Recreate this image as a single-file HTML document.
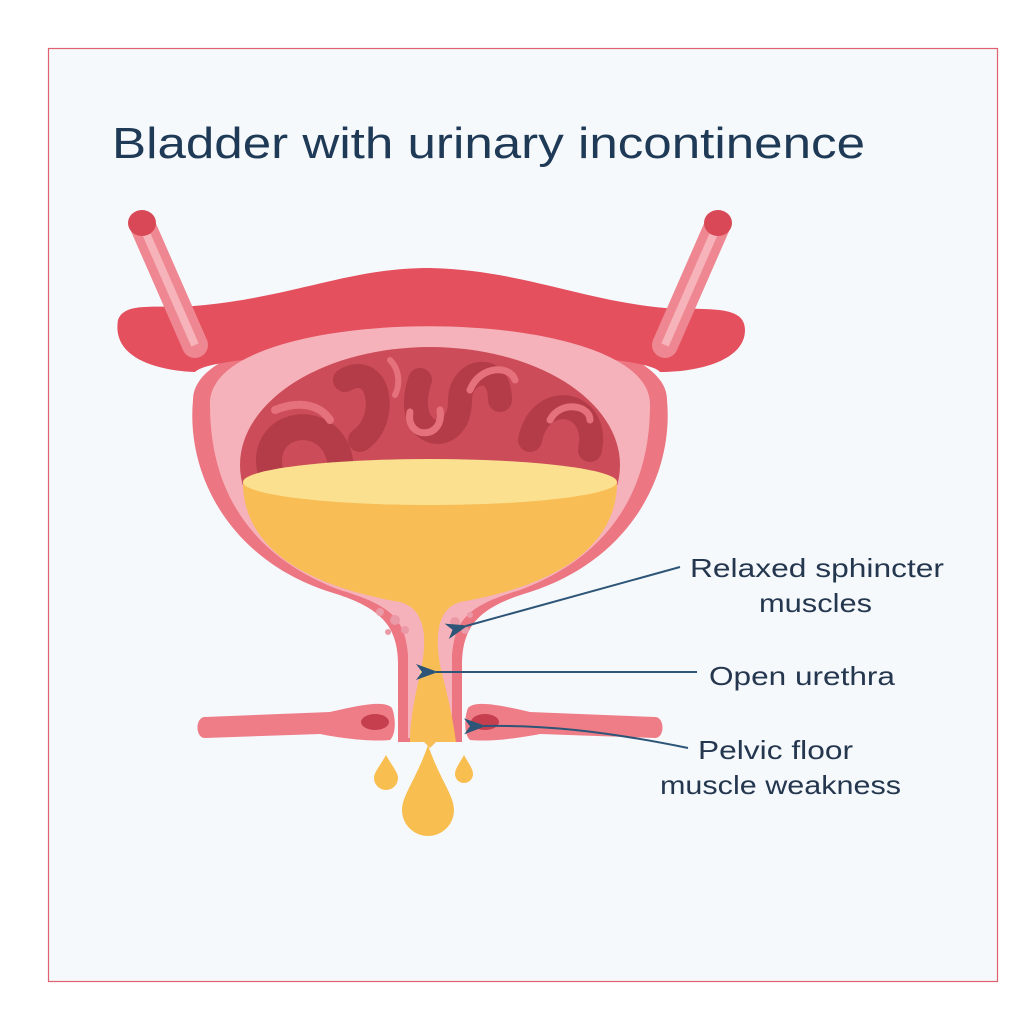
<!DOCTYPE html>
<html><head><meta charset="utf-8"><style>
html,body{margin:0;padding:0;background:#fff;}
svg{display:block}
text{font-family:"Liberation Sans",sans-serif;fill:#24374f}
</style></head><body>
<svg width="1024" height="1024" viewBox="0 0 1024 1024" xmlns="http://www.w3.org/2000/svg">
<defs>
<marker id="ah" markerWidth="22" markerHeight="16" refX="2" refY="8" orient="auto" markerUnits="userSpaceOnUse" viewBox="0 0 22 16">
<path d="M22,0 L0,8 L22,16 L16,8 Z" fill="#2d5577"/></marker>
<clipPath id="cavclip"><rect x="0" y="0" width="1024" height="485"/></clipPath>
</defs>
<rect x="0" y="0" width="1024" height="1024" fill="#fff"/>
<rect x="48.5" y="48.5" width="949" height="933" fill="#f6f9fc" stroke="#e06070" stroke-width="1.2"/>
<text x="112" y="158" font-size="44" textLength="753" lengthAdjust="spacingAndGlyphs" style="fill:#1f3a56">Bladder with urinary incontinence</text>

<path d="M193,400 C186,475 230,560 330,592 C380,607 398,625 398,665 L398,742 L462,742 L462,665 C462,625 480,607 530,592 C630,560 674,475 667,400 C667,300 193,300 193,400 Z" fill="#ec7682"/>
<path d="M118,320 C125,300 160,310 205,305 C300,295 350,268 430,268 C520,270 580,300 665,308 C710,310 745,305 745,330 C745,360 700,372 660,372 C640,345 220,345 195,372 C150,370 112,355 118,320 Z" fill="#e4505e"/>
<line x1="142" y1="224" x2="195" y2="345" stroke="#ee8791" stroke-width="26" stroke-linecap="round"/>
<line x1="142" y1="224" x2="195" y2="345" stroke="#f7b3ba" stroke-width="8"/>
<ellipse cx="142" cy="223" rx="14" ry="13" fill="#d94856"/>
<line x1="718" y1="224" x2="665" y2="345" stroke="#ee8791" stroke-width="26" stroke-linecap="round"/>
<line x1="718" y1="224" x2="665" y2="345" stroke="#f7b3ba" stroke-width="8"/>
<ellipse cx="718" cy="223" rx="14" ry="13" fill="#d94856"/>
<path d="M210,405 C205,300 652,300 650,405 C650,500 600,560 520,590 C470,605 455,618 452,655 L452,738 L408,738 L408,655 C405,618 390,605 340,590 C260,560 210,500 210,405 Z" fill="#f6b2ba"/>
<ellipse cx="430" cy="465" rx="190" ry="118" fill="#cc4d59" clip-path="url(#cavclip)"/>
<g fill="none" stroke-linecap="round" clip-path="url(#cavclip)">
<path d="M270,470 C260,420 330,410 340,460" stroke="#b43c48" stroke-width="26"/>
<path d="M345,380 C380,360 390,420 360,440" stroke="#b43c48" stroke-width="24"/>
<path d="M420,380 C400,440 460,450 460,400 C460,370 500,360 500,400" stroke="#b43c48" stroke-width="24"/>
<path d="M530,440 C540,390 600,400 590,450" stroke="#b43c48" stroke-width="24"/>
<path d="M275,410 C300,400 320,405 330,420" stroke="#e5717d" stroke-width="8"/>
<path d="M410,412 C405,440 445,440 440,410" stroke="#e5717d" stroke-width="7"/>
<path d="M470,390 C480,365 510,365 515,380" stroke="#e5717d" stroke-width="7"/>
<path d="M550,420 C560,400 590,405 590,420" stroke="#e5717d" stroke-width="7"/>
<path d="M390,360 C400,370 400,385 395,395" stroke="#e5717d" stroke-width="6"/>
</g>
<path d="M243,482 C243,560 330,590 400,602 C422,608 428,630 422,665 C414,700 410,720 410,742 L424,742 L430,748 L436,742 L456,742 C452,712 446,690 440,665 C434,630 440,608 460,602 C530,590 617,560 617,482 Z" fill="#f8bd55"/>
<ellipse cx="430" cy="482" rx="187" ry="23" fill="#fbe08f"/>
<circle cx="424" cy="672" r="4" fill="#fde08e"/>
<g fill="#ea9aa6">
<circle cx="380" cy="612" r="4"/><circle cx="395" cy="620" r="5"/><circle cx="405" cy="630" r="4"/><circle cx="388" cy="632" r="3"/>
<circle cx="455" cy="622" r="5"/><circle cx="465" cy="630" r="4"/><circle cx="470" cy="615" r="3"/>
</g>
<path d="M205,717 L330,712 C360,705 385,700 392,708 C396,718 396,735 390,740 C370,742 340,738 320,734 L205,738 C195,738 195,717 205,717 Z" fill="#ef7d88"/>
<path d="M655,717 L530,712 C500,705 475,700 468,708 C464,718 464,735 470,740 C490,742 520,738 540,734 L655,738 C665,738 665,717 655,717 Z" fill="#ef7d88"/>
<g fill="#c63f4e"><ellipse cx="375" cy="722" rx="14" ry="8"/><ellipse cx="485" cy="722" rx="14" ry="8"/></g>
<path d="M428,745 C440,780 454,795 454,810 A26,26 0 0 1 402,810 C402,795 416,780 428,745 Z" fill="#f8be50"/>
<path d="M386,755 C392,766 398,772 398,778 A12,12 0 0 1 374,778 C374,772 380,766 386,755 Z" fill="#f8be50"/>
<path d="M464,755 C469,764 473,769 473,774 A9,9 0 0 1 455,774 C455,769 459,764 464,755 Z" fill="#f8be50"/>
<g stroke="#2d5577" stroke-width="2" fill="none">
<line x1="680" y1="567" x2="466" y2="626" marker-end="url(#ah)"/>
<line x1="697" y1="672" x2="436" y2="672" marker-end="url(#ah)"/>
<path d="M688,748 C600,730 540,725 484,726" marker-end="url(#ah)"/>
</g>
<text x="690" y="577" font-size="26" textLength="254" lengthAdjust="spacingAndGlyphs">Relaxed sphincter</text>
<text x="759" y="612" font-size="26" textLength="113" lengthAdjust="spacingAndGlyphs">muscles</text>
<text x="709" y="685" font-size="26" textLength="186" lengthAdjust="spacingAndGlyphs">Open urethra</text>
<text x="698" y="759" font-size="26" textLength="155" lengthAdjust="spacingAndGlyphs">Pelvic floor</text>
<text x="660" y="794" font-size="26" textLength="241" lengthAdjust="spacingAndGlyphs">muscle weakness</text>
</svg>
</body></html>
